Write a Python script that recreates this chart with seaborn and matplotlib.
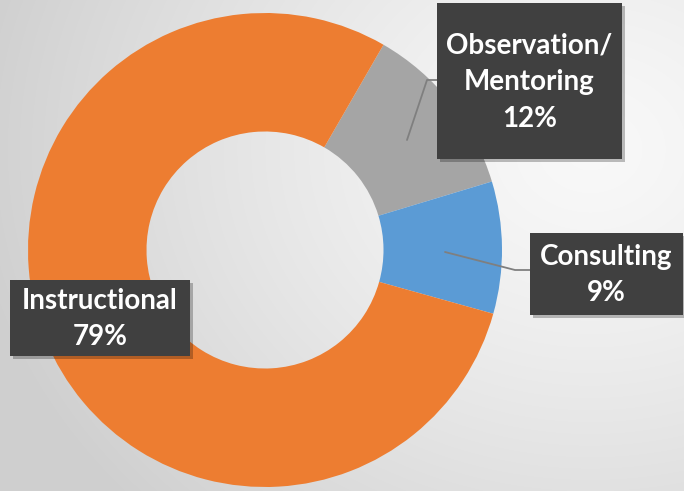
import numpy as np
import matplotlib
matplotlib.use("Agg")
import matplotlib.pyplot as plt
from matplotlib.patches import Rectangle
import seaborn as sns

categories = ["Observation/\nMentoring", "Consulting", "Instructional"]
values = [12, 9, 79]
colors = ["#A5A5A5", "#5B9BD5", "#ED7D31"]

sns.set_theme(style="white")
plt.rcParams['font.family'] = ['Lato', 'DejaVu Sans']

W, H = 684, 491
fig = plt.figure(figsize=(W / 100, H / 100), dpi=100)
ax = fig.add_axes([0, 0, 1, 1])
ax.set_xlim(0, W)
ax.set_ylim(0, H)
ax.set_aspect('equal')
ax.axis('off')

# background radial gradient
yy, xx = np.mgrid[0:H, 0:W]
d = np.sqrt(((xx - 590) / 620.0) ** 2 + ((yy - (H - 150)) / 520.0) ** 2)
d = np.clip(d, 0, 1)
g = 0.975 - 0.16 * d ** 1.3
ax.imshow(np.dstack([g, g, g]), extent=[0, W, 0, H], origin='lower', zorder=0)

# donut
cx, cy, R = 265, H - 250, 237
wedges, _ = ax.pie(values, colors=colors, startangle=60, counterclock=False,
                   radius=R, center=(cx, cy), frame=True,
                   wedgeprops=dict(width=R * 0.5, linewidth=0))
for w in wedges:
    w.set_zorder(2)
ax.set_xlim(0, W)
ax.set_ylim(0, H)
ax.axis('off')

# leader lines
lc = "#7f7f7f"
ax.plot([437, 427, 407], [H - 80, H - 80, H - 140], color=lc, lw=1.3, zorder=3)
ax.plot([530, 515, 445], [H - 270, H - 270, H - 252], color=lc, lw=1.3, zorder=3)

def label_box(x0, x1, ytop, ybot, text):
    y0, y1 = H - ybot, H - ytop
    ax.add_patch(Rectangle((x0 + 3, y0 - 3), x1 - x0, y1 - y0, facecolor="#000000",
                           alpha=0.25, lw=0, zorder=4))
    ax.add_patch(Rectangle((x0, y0), x1 - x0, y1 - y0, facecolor="#404040",
                           lw=0, zorder=5))
    ax.text((x0 + x1) / 2, (y0 + y1) / 2 - 1, text, ha='center', va='center',
            color='white', fontsize=20, fontweight='bold', linespacing=1.5,
            zorder=6)

labels = [f"{c}\n{v}%" for c, v in zip(categories, values)]
label_box(437, 622, 3, 159, labels[0])
label_box(530, 683, 233, 315, labels[1])
label_box(10, 190, 280, 356, labels[2])

fig.savefig("out.png", dpi=100)
